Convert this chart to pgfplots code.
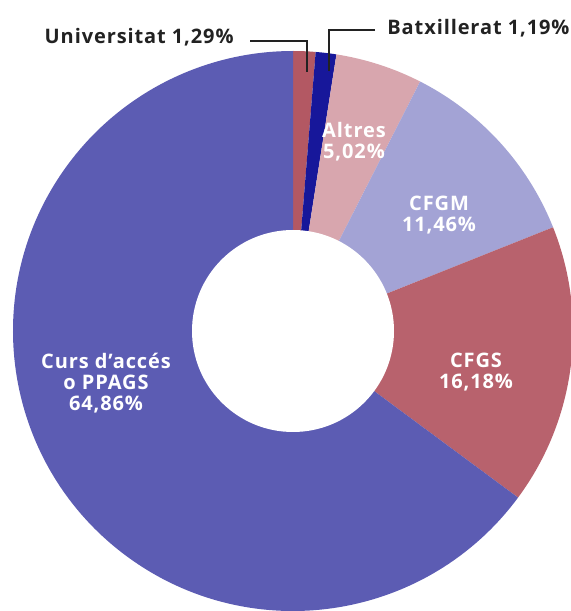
\documentclass[border=0pt]{standalone}
\usepackage{fontspec}
\setmainfont{Open Sans}[LetterSpace=4.5]
\usepackage{pgfplots}
\pgfplotsset{compat=1.18}
\definecolor{cursc}{HTML}{5C5CB3}
\definecolor{univc}{HTML}{B35863}
\definecolor{batxc}{HTML}{17179A}
\definecolor{altrc}{HTML}{D8A6AE}
\definecolor{cfgmc}{HTML}{A3A3D5}
\definecolor{cfgsc}{HTML}{B8626D}
\definecolor{txt}{HTML}{222222}
% slice: start (cumulative %), value (%), colour
\newcommand\slice[3]{%
  \fill[#3] (axis cs:293,280) -- ++({90-3.6*#1}:140pt)
    arc[start angle={90-3.6*#1}, end angle={90-3.6*(#1+#2)}, radius=140pt] -- cycle;}
\begin{document}
\begin{tikzpicture}
\begin{axis}[
    hide axis,
    scale only axis,
    width=285.5pt, height=305.5pt,
    xmin=0, xmax=571, ymin=0, ymax=611,
    clip=true,
  ]
  \addplot[draw=none] coordinates {(0,0) (571,611)};
  \slice{0}{1.29}{univc}
  \slice{1.29}{1.19}{batxc}
  \slice{2.48}{5.02}{altrc}
  \slice{7.50}{11.46}{cfgmc}
  \slice{18.96}{16.18}{cfgsc}
  \slice{35.14}{64.86}{cursc}
  \fill[white] (axis cs:293,280) circle[radius=50.5pt];
  % leader lines
  \draw[txt, line width=0.7pt] (axis cs:250,570) -- (axis cs:307,570) -- (axis cs:307,539);
  \draw[txt, line width=0.7pt] (axis cs:375,581) -- (axis cs:329,581) -- (axis cs:329,540);
  \tikzset{lab/.style={text=txt, font=\bfseries\fontsize{10}{10.5}\selectfont, inner sep=0pt}}
  \node[lab, anchor=east] at (axis cs:234,574) {Universitat 1,29\%};
  \node[lab, anchor=west] at (axis cs:387,583) {Batxillerat 1,19\%};
  \tikzset{inlab/.style={align=center, text=white, font=\bfseries\fontsize{10}{10.5}\selectfont, inner sep=0pt}}
  \node[inlab] at (axis cs:354,469) {Altres\\5,02\%};
  \node[inlab] at (axis cs:439,396) {CFGM\\11,46\%};
  \node[inlab] at (axis cs:476,239) {CFGS\\16,18\%};
  \node[inlab] at (axis cs:106,228) {Curs d’accés\\o PPAGS\\64,86\%};
  \coordinate (SW) at (axis cs:0,0);
  \coordinate (NE) at (axis cs:571,611);
\end{axis}
\pgfresetboundingbox
\path (SW) rectangle (NE);
\end{tikzpicture}
\end{document}
